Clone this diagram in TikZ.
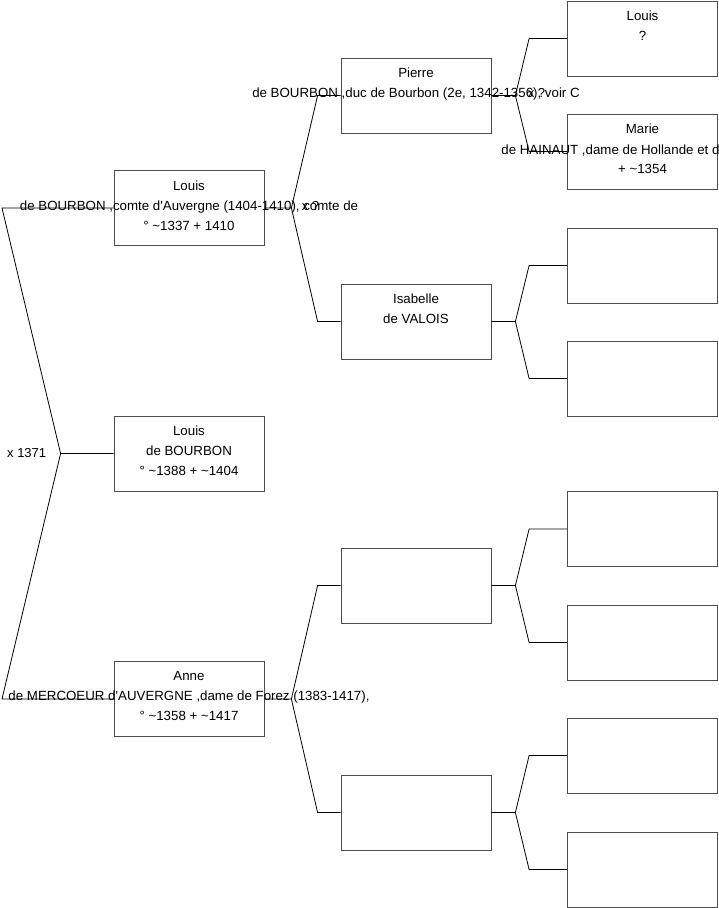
\documentclass[tikz,border=0pt]{standalone}
\usepackage{fontspec}
\setmainfont{Liberation Sans}
\usetikzlibrary{calc,positioning}

\begin{document}
\begin{tikzpicture}[x=1pt,y=-1pt,line width=0.8pt,
  pbox/.style={draw=black!70,minimum width=150pt,minimum height=75pt,inner sep=0pt},
  ptext/.style={anchor=north,align=center,inner sep=0pt,font=\fontsize{13.3}{20}\selectfont},
  tag/.style={inner sep=0pt,font=\fontsize{13}{14}\selectfont}]
  \useasboundingbox (0,0) rectangle (719,908);
  \clip (0,0) rectangle (719,908);
  % generation 1
  \node[pbox] (lou) at (189,208) {};
  \node[pbox] (kid) at (189,453.5) {};
  \node[pbox] (ann) at (189,699) {};
  % generation 2
  \node[pbox] (pie) at (416,95.5) {};
  \node[pbox] (isa) at (416,321.5) {};
  \node[pbox] (ma) at (416,585.5) {};
  \node[pbox] (mb) at (416,812.5) {};
  % generation 3
  \node[pbox] (pf) at (642.5,38.5) {};
  \node[pbox] (pm) at (642.5,151.5) {};
  \node[pbox] (if) at (642.5,265.5) {};
  \node[pbox] (im) at (642.5,378.5) {};
  \node[pbox] (maf) at (642.5,529) {};
  \node[pbox] (mam) at (642.5,642.5) {};
  \node[pbox] (mbf) at (642.5,755.5) {};
  \node[pbox] (mbm) at (642.5,869.5) {};
  % texts
  \node[ptext] (tlou) at ($(lou.north)+(0,10)$) {Louis\\de BOURBON ,comte d\textquotesingle Auvergne (1404-1410), comte de\\° \textasciitilde1337 + 1410};
  \node[ptext] (tkid) at ($(kid.north)+(0,10)$) {Louis\\de BOURBON\\° \textasciitilde1388 + \textasciitilde1404};
  \node[ptext] (tann) at ($(ann.north)+(0,10)$) {Anne\\de MERCOEUR d\textquotesingle AUVERGNE ,dame de Forez (1383-1417),\\° \textasciitilde1358 + \textasciitilde1417};
  \node[ptext] (tpie) at ($(pie.north)+(0,10)$) {Pierre\\de BOURBON ,duc de Bourbon (2e, 1342-1356), voir C};
  \node[ptext] (tisa) at ($(isa.north)+(0,10)$) {Isabelle\\de VALOIS};
  \node[ptext] (tpf) at ($(pf.north)+(0,10)$) {Louis\\?};
  \node[ptext] (tpm) at ($(pm.north)+(0,10)$) {Marie\\\phantom{x}\\+ \textasciitilde1354};
  \node[anchor=base west,inner sep=0pt,font=\fontsize{13.3}{20}\selectfont] (tpm2) at (501,154) {de HAINAUT ,dame de Hollande et d};
  % root fork
  \coordinate (edge) at (2,0);
  \draw (kid.west) -- ++(-53,0) coordinate (f0) -- (lou.west -| edge) -- (lou.west);
  \draw (f0) -- (ann.west -| edge) -- (ann.west);
  \node[tag,left=14pt of f0] (m0) {x 1371};
  % generation 1 -> 2
  \draw (lou.east) -- ++(27,0) coordinate (f1) -- ($(pie.west)+(-23,0)$) -- (pie.west);
  \draw (f1) -- ($(isa.west)+(-23,0)$) -- (isa.west);
  \node[tag,right=10pt of f1,yshift=2.5pt] (m1) {x ?};
  \draw (ann.east) -- ++(27,0) coordinate (f2) -- ($(ma.west)+(-23,0)$) -- (ma.west);
  \draw (f2) -- ($(mb.west)+(-23,0)$) -- (mb.west);
  % generation 2 -> 3
  \draw (pie.east) -- ++(24,0) coordinate (f3) -- ($(pf.west)+(-38,0)$) -- (pf.west);
  \draw (f3) -- ($(pm.west)+(-38,0)$) -- (pm.west);
  \node[tag,right=12pt of f3,yshift=2.5pt] (m3) {x ?};
  \draw (isa.east) -- ++(24,0) coordinate (f4) -- ($(if.west)+(-38,0)$) -- (if.west);
  \draw (f4) -- ($(im.west)+(-38,0)$) -- (im.west);
  \draw (ma.east) -- ++(24,0) coordinate (f5) -- ($(maf.west)+(-38,0)$) -- (maf.west);
  \draw (f5) -- ($(mam.west)+(-38,0)$) -- (mam.west);
  \draw (mb.east) -- ++(24,0) coordinate (f6) -- ($(mbf.west)+(-38,0)$) -- (mbf.west);
  \draw (f6) -- ($(mbm.west)+(-38,0)$) -- (mbm.west);
\end{tikzpicture}
\end{document}
